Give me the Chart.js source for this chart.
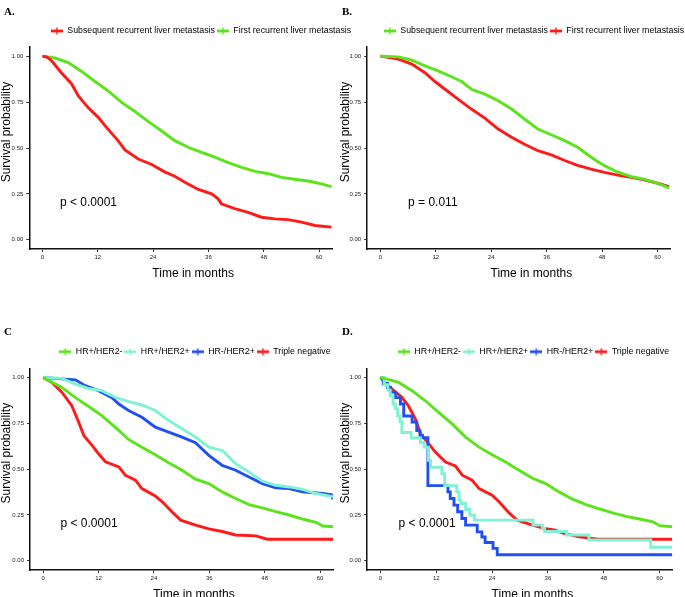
<!DOCTYPE html>
<html>
<head>
<meta charset="utf-8">
<title>Survival curves</title>
<script src="https://cdn.jsdelivr.net/npm/chart.js@4.4.1/dist/chart.umd.min.js"></script>
<style>
  html, body { margin: 0; padding: 0; background: #fff; overflow: hidden; }
  body { width: 685px; height: 597px; position: relative; }
  canvas { position: absolute; }
  .tag { position: absolute; font: bold 11px "Liberation Serif", "Times New Roman", serif; line-height: 11px; color: #000; }
</style>
</head>
<body>
<canvas id="chartA" width="402" height="290" style="left:0px;top:0px"></canvas>
<canvas id="chartB" width="390" height="290" style="left:338.5px;top:0px"></canvas>
<canvas id="chartC" width="390" height="297" style="left:0px;top:300px"></canvas>
<canvas id="chartD" width="389" height="297" style="left:338.5px;top:300px"></canvas>
<div class="tag" style="left:4px;top:6px">A.</div>
<div class="tag" style="left:342px;top:6px">B.</div>
<div class="tag" style="left:4px;top:326px">C</div>
<div class="tag" style="left:342px;top:326px">D.</div>
<script>
// --- axis ticks ---
const xTicks = [0, 12, 24, 36, 48, 60];
const yTicks = [0, 0.25, 0.5, 0.75, 1];

// --- Panel A: recurrence type ---
const aSubsequentT = [0, 1, 2, 4.1, 6.3, 7.75, 9.9, 12.1, 14.3, 16.4, 17.9, 20.8, 23.7, 26.5, 28.7, 30.9, 33.8, 36.7, 38.1, 38.8, 41.7, 44.6, 47.5, 50.4, 53.3, 56.2, 59.1, 62.7];
const aSubsequentS = [1, 0.995, 0.975, 0.91, 0.85, 0.785, 0.72, 0.667, 0.6, 0.54, 0.49, 0.44, 0.41, 0.37, 0.346, 0.313, 0.274, 0.25, 0.223, 0.196, 0.17, 0.15, 0.123, 0.114, 0.11, 0.096, 0.078, 0.069];
const aFirstT = [0, 2.7, 5.6, 8.5, 11.4, 14.3, 17.1, 20, 22.9, 25.8, 28.7, 31.6, 34.5, 37.4, 40.3, 43.2, 46.1, 49, 51.9, 54.7, 57.6, 60.5, 62.7];
const aFirstS = [1, 0.99, 0.965, 0.917, 0.862, 0.81, 0.75, 0.7, 0.645, 0.594, 0.54, 0.504, 0.476, 0.45, 0.42, 0.395, 0.373, 0.36, 0.34, 0.33, 0.32, 0.305, 0.29];

// --- Panel B ---
const bSubsequentT = [0, 3.9, 6.8, 9.65, 12.5, 15.4, 17.6, 19.7, 22.6, 25.5, 28.4, 31.2, 34.1, 37, 39.9, 42.7, 45.6, 48.5, 51.4, 54.3, 57.1, 60, 62.5];
const bSubsequentS = [1, 0.996, 0.978, 0.947, 0.92, 0.888, 0.862, 0.82, 0.793, 0.757, 0.712, 0.658, 0.603, 0.572, 0.54, 0.504, 0.45, 0.404, 0.368, 0.344, 0.33, 0.308, 0.283];
const bFirstT = [0, 3.9, 6.8, 9.65, 11.8, 14, 16.8, 19.7, 22.6, 25.5, 28.4, 31.2, 34.1, 37, 39.9, 42.7, 45.6, 48.5, 51.4, 54.3, 57.1, 60, 62.5];
const bFirstS = [1, 0.984, 0.957, 0.91, 0.862, 0.82, 0.766, 0.712, 0.663, 0.603, 0.558, 0.52, 0.485, 0.462, 0.432, 0.405, 0.385, 0.367, 0.352, 0.34, 0.326, 0.308, 0.29];

// --- Panel C: subtype ---
const cHrPosHer2NegT = [0, 4.05, 7, 9.8, 12.7, 15.6, 18.5, 21.4, 24.3, 27.2, 30.1, 33, 35.9, 38.8, 41.7, 44.6, 47.5, 50.4, 53.3, 56.2, 59.1, 60.6, 62.8];
const cHrPosHer2NegS = [1, 0.946, 0.89, 0.843, 0.792, 0.729, 0.662, 0.62, 0.579, 0.535, 0.494, 0.445, 0.421, 0.376, 0.34, 0.307, 0.289, 0.268, 0.25, 0.228, 0.21, 0.19, 0.186];
const cHrPosHer2PosT = [0, 4.05, 7, 9.8, 12.7, 15.6, 18.5, 21.4, 24.3, 27.2, 30.1, 33, 35.9, 38.8, 41.7, 44.6, 47.5, 50.4, 53.3, 56.2, 59.1, 62.8];
const cHrPosHer2PosS = [1, 0.995, 0.964, 0.94, 0.928, 0.892, 0.868, 0.85, 0.82, 0.765, 0.72, 0.675, 0.62, 0.602, 0.53, 0.485, 0.434, 0.412, 0.403, 0.39, 0.367, 0.35];
const cHrNegHer2PosT = [0, 2.6, 7, 9.1, 12, 14.9, 16.4, 18.5, 21.4, 24.3, 27.2, 30.1, 33, 35.9, 38.8, 41.7, 44.6, 47.5, 50.4, 53.3, 56.2, 60.6, 62.5, 62.8];
const cHrNegHer2PosS = [1, 0.995, 0.987, 0.955, 0.928, 0.89, 0.855, 0.82, 0.783, 0.729, 0.702, 0.675, 0.644, 0.575, 0.52, 0.494, 0.457, 0.421, 0.398, 0.394, 0.376, 0.367, 0.36, 0.336];
const cTripleNegT = [0, 1.9, 4.05, 6.2, 7.7, 8.8, 10.6, 12, 13.5, 16.4, 17.8, 20, 21.4, 24.3, 25.8, 27.9, 29.8, 33, 35.9, 38.8, 41.7, 46.1, 48.5, 62.8];
const cTripleNegS = [1, 0.973, 0.92, 0.846, 0.756, 0.684, 0.63, 0.584, 0.54, 0.512, 0.467, 0.44, 0.394, 0.354, 0.322, 0.268, 0.222, 0.195, 0.174, 0.16, 0.141, 0.136, 0.118, 0.118];

// --- Panel D ---
const dHrPosHer2NegT = [0, 3.9, 6.8, 9.65, 12.5, 15.4, 18.3, 21.2, 24, 26.9, 29.8, 32.7, 35.5, 38.4, 41.3, 44.2, 47, 49.9, 52.8, 55.7, 58.6, 60, 62.7];
const dHrPosHer2NegS = [1, 0.973, 0.928, 0.873, 0.81, 0.747, 0.675, 0.62, 0.579, 0.539, 0.494, 0.45, 0.421, 0.376, 0.336, 0.307, 0.284, 0.262, 0.242, 0.228, 0.213, 0.192, 0.186];
const dHrPosHer2PosT = [0, 0.8, 1.6, 2.1, 2.7, 3.2, 3.7, 4.2, 4.6, 6.6, 8.6, 9.4, 10.3, 10.8, 13.2, 13.8, 16.4, 16.9, 17.3, 18.3, 19.2, 20.2, 32.8, 34.8, 35.3, 40, 44.8, 58.1, 62.7];
const dHrPosHer2PosS = [1, 0.96, 0.93, 0.9, 0.855, 0.83, 0.79, 0.76, 0.7, 0.67, 0.645, 0.62, 0.548, 0.51, 0.475, 0.41, 0.376, 0.33, 0.313, 0.28, 0.25, 0.222, 0.195, 0.177, 0.16, 0.141, 0.114, 0.074, 0.074];
const dHrNegHer2PosT = [0, 0.6, 1.5, 2.2, 3.2, 4.3, 5, 6.8, 7.8, 8.5, 9, 10.2, 14.5, 15, 15.8, 16.6, 17.5, 18.3, 20.8, 21.8, 22.5, 24.2, 25.1, 62.7];
const dHrNegHer2PosS = [1, 0.967, 0.945, 0.92, 0.89, 0.855, 0.79, 0.757, 0.71, 0.684, 0.672, 0.41, 0.376, 0.34, 0.304, 0.268, 0.231, 0.195, 0.158, 0.13, 0.1, 0.068, 0.033, 0.033];
const dTripleNegT = [0, 1.2, 2.5, 4.6, 6, 7.5, 8.6, 10.4, 11.8, 14, 16.1, 17.6, 19.7, 21.2, 24, 25.5, 27.6, 29.4, 32.7, 35.2, 37.3, 39.5, 42.4, 46.7, 62.7];
const dTripleNegS = [1, 0.965, 0.937, 0.892, 0.846, 0.774, 0.693, 0.638, 0.593, 0.539, 0.517, 0.467, 0.44, 0.394, 0.358, 0.322, 0.262, 0.222, 0.195, 0.177, 0.168, 0.15, 0.132, 0.118, 0.118];

const RED = '#ff1a1a';
const GREEN = '#5be41c';
const BLUE = '#2150f2';
const CYAN = '#80f2d4';
const FONT = '"Liberation Sans", Arial, Helvetica, sans-serif';

Chart.defaults.font.family = FONT;
Chart.defaults.color = '#000';

// line with a small "+" like the survminer legend key
const legendMark = (color) => {
    const c = document.createElement('canvas');
    c.width = 12; c.height = 8;
    const g = c.getContext('2d');
    g.strokeStyle = color;
    g.lineWidth = 2.8;
    g.beginPath(); g.moveTo(0, 4); g.lineTo(12, 4); g.stroke();
    g.lineWidth = 1.4;
    g.beginPath(); g.moveTo(6, 0.5); g.lineTo(6, 7.5); g.stroke();
    return c;
};

const toPoints = (t, s) => t.map((v, i) => ({ x: v, y: s[i] }));

const series = (label, t, s, color, stepped = false) => ({
    label,
    data: toPoints(t, s),
    borderColor: color,
    backgroundColor: color,
    borderWidth: 2.9,
    pointRadius: 0,
    pointHoverRadius: 0,
    pointStyle: legendMark(color),
    stepped,
    tension: 0,
    fill: false
});

// axis titles and p-value, placed like the ggplot output
const panelText = {
    id: 'panelText',
    afterDraw(chart, args, opts) {
        const { ctx, chartArea: a, scales } = chart;
        ctx.save();
        ctx.fillStyle = '#000';
        ctx.font = `12px ${FONT}`;
        ctx.textBaseline = 'middle';
        ctx.textAlign = 'left';
        ctx.fillText(opts.pText, scales.x.getPixelForValue(opts.pX), scales.y.getPixelForValue(opts.pY));
        ctx.textAlign = 'center';
        ctx.fillText('Time in months', (a.left + a.right) / 2 + 12.5, a.bottom + 24.3);
        ctx.translate(6.2, (a.top + a.bottom) / 2 - 16);
        ctx.rotate(-Math.PI / 2);
        ctx.fillText('Survival probability', 0, 0);
        ctx.restore();
    }
};

const makeChart = (id, p) => {
    const ctx = document.getElementById(id).getContext('2d');
    return new Chart(ctx, {
        type: 'line',
        data: { datasets: p.datasets },
        plugins: [panelText],
        options: {
            responsive: false,
            animation: false,
            devicePixelRatio: 1,
            events: [],
            layout: { padding: { left: 0, right: 0, top: p.topPad, bottom: p.bottomPad } },
            plugins: {
                tooltip: { enabled: false },
                legend: {
                    position: 'top',
                    align: 'center',
                    labels: {
                        usePointStyle: true,
                        pointStyleWidth: 12,
                        padding: 2,
                        color: '#000',
                        font: { size: 8.8, family: FONT }
                    }
                },
                panelText: { pText: p.pText, pX: p.pX, pY: p.pY }
            },
            scales: {
                x: {
                    type: 'linear',
                    position: 'bottom',
                    min: -2.85,
                    max: 62.8,
                    afterBuildTicks: (axis) => { axis.ticks = xTicks.map(v => ({ value: v })); },
                    afterFit: (scale) => { scale.height = p.xHeight; },
                    ticks: { font: { size: 6, family: FONT }, color: '#222', padding: 2, maxRotation: 0, autoSkip: false },
                    grid: { drawOnChartArea: false, drawTicks: true, tickLength: 3, tickColor: '#333', tickWidth: 1 },
                    border: { display: true, color: '#111', width: 1.5 }
                },
                y: {
                    type: 'linear',
                    position: 'left',
                    min: -0.05,
                    max: 1.05,
                    afterBuildTicks: (axis) => { axis.ticks = yTicks.map(v => ({ value: v })); },
                    afterFit: (scale) => { scale.width = p.yWidth; },
                    ticks: { font: { size: 6, family: FONT }, color: '#222', padding: 3, callback: (v) => Number(v).toFixed(2) },
                    grid: { drawOnChartArea: false, drawTicks: true, tickLength: 3, tickColor: '#333', tickWidth: 1 },
                    border: { display: true, color: '#111', width: 1.5 }
                },
                // spacer scales: keep the legend centred like the original while the panel stays in place
                xTop: {
                    type: 'linear',
                    position: 'top',
                    afterFit: (scale) => { scale.height = p.gap; },
                    ticks: { display: false },
                    grid: { display: false },
                    border: { display: false }
                },
                yRight: {
                    type: 'linear',
                    position: 'right',
                    afterFit: (scale) => { scale.width = p.rightWidth; },
                    ticks: { display: false },
                    grid: { display: false },
                    border: { display: false }
                }
            }
        }
    });
};

makeChart('chartA', {
    yWidth: 29.3, rightWidth: 70, topPad: 24.6, gap: 1.6, bottomPad: 1, xHeight: 40,
    pText: 'p < 0.0001', pX: 3.8, pY: 0.2,
    datasets: [
        series('Subsequent recurrent liver metastasis', aSubsequentT, aSubsequentS, RED),
        series('First recurrent liver metastasis', aFirstT, aFirstS, GREEN)
    ]
});

makeChart('chartB', {
    yWidth: 28.2, rightWidth: 58.5, topPad: 24.6, gap: 1.6, bottomPad: 1, xHeight: 40,
    pText: 'p = 0.011', pX: 6, pY: 0.2,
    datasets: [
        series('Subsequent recurrent liver metastasis', bSubsequentT, bSubsequentS, GREEN),
        series('First recurrent liver metastasis', bFirstT, bFirstS, RED)
    ]
});

makeChart('chartC', {
    yWidth: 30, rightWidth: 57, topPad: 45.3, gap: 2.2, bottomPad: 0, xHeight: 27,
    pText: 'p < 0.0001', pX: 3.76, pY: 0.205,
    datasets: [
        series('HR+/HER2-', cHrPosHer2NegT, cHrPosHer2NegS, GREEN),
        series('HR+/HER2+', cHrPosHer2PosT, cHrPosHer2PosS, CYAN),
        series('HR-/HER2+', cHrNegHer2PosT, cHrNegHer2PosS, BLUE),
        series('Triple negative', cTripleNegT, cTripleNegS, RED)
    ]
});

makeChart('chartD', {
    yWidth: 28.2, rightWidth: 55.4, topPad: 45.3, gap: 2.2, bottomPad: 0, xHeight: 27,
    pText: 'p < 0.0001', pX: 3.9, pY: 0.205,
    datasets: [
        series('HR+/HER2-', dHrPosHer2NegT, dHrPosHer2NegS, GREEN),
        series('HR+/HER2+', dHrPosHer2PosT, dHrPosHer2PosS, CYAN, true),
        series('HR-/HER2+', dHrNegHer2PosT, dHrNegHer2PosS, BLUE, true),
        series('Triple negative', dTripleNegT, dTripleNegS, RED)
    ]
});
</script>
</body>
</html>
